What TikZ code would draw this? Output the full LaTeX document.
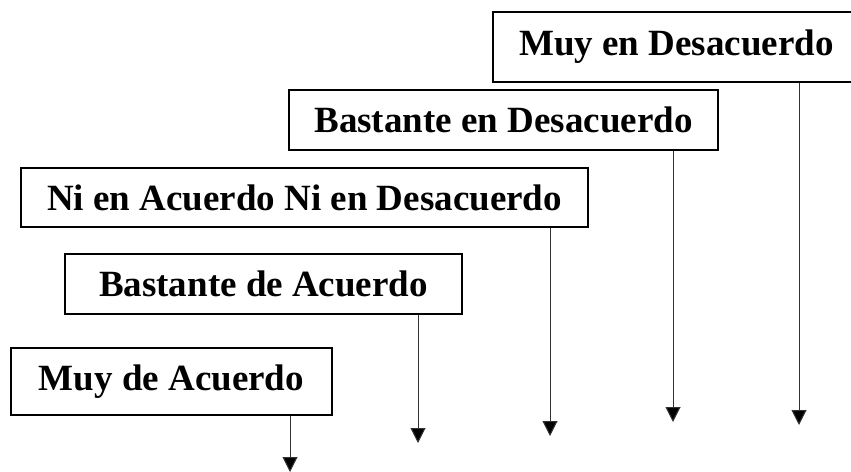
\documentclass[tikz,border=0pt]{standalone}
\usepackage{fontspec}
\setmainfont{Liberation Serif}
\usetikzlibrary{arrows.meta}
\begin{document}
\begin{tikzpicture}[x=1pt,y=-1pt,
  box/.style={draw=black,line width=2pt,inner sep=0pt,fill=white,
    font=\fontsize{37}{44}\selectfont\bfseries},
  conn/.style={line width=1pt,draw=black!80,
    -{Triangle[width=15pt,length=15pt,fill=black]}}]
\useasboundingbox (0,0) rectangle (851,471);
\clip (0,0) rectangle (851,471);
\node[box,minimum width=367pt,minimum height=70pt] (b1) at (676.5,47) {Muy en Desacuerdo};
\node[box,minimum width=429pt,minimum height=60pt] (b2) at (503.5,120) {Bastante en Desacuerdo};
\node[box,minimum width=567pt,minimum height=59pt] (b3) at (304.5,197.5) {Ni en Acuerdo Ni en Desacuerdo};
\node[box,minimum width=397pt,minimum height=60pt] (b4) at (263.5,284) {Bastante de Acuerdo};
\node[box,minimum width=321pt,minimum height=67pt] (b5) at (171.5,381.5) {Muy de Acuerdo};
\coordinate (e1) at (799,425);
\coordinate (e2) at (673,422);
\coordinate (e3) at (550,436);
\coordinate (e4) at (418,443);
\coordinate (e5) at (290,472);
\draw[conn] (b1.south -| e1) -- (e1);
\draw[conn] (b2.south -| e2) -- (e2);
\draw[conn] (b3.south -| e3) -- (e3);
\draw[conn] (b4.south -| e4) -- (e4);
\draw[conn] (b5.south -| e5) -- (e5);
\end{tikzpicture}
\end{document}
